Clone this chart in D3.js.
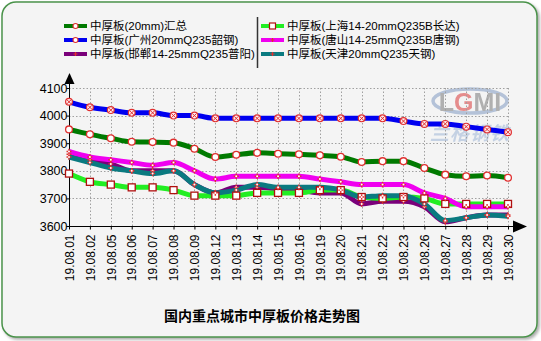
<!DOCTYPE html>
<html><head><meta charset="utf-8">
<script src="https://cdn.jsdelivr.net/npm/d3@7"></script>
<style>
html,body{margin:0;padding:0;background:#fff;}
svg{display:block;}
</style></head>
<body>
<svg id="chart" width="541" height="341"></svg>
<script>
const dates = ["19.08.01","19.08.02","19.08.05","19.08.06","19.08.07","19.08.08","19.08.09","19.08.12","19.08.13","19.08.14","19.08.15","19.08.16","19.08.19","19.08.20","19.08.21","19.08.22","19.08.23","19.08.26","19.08.27","19.08.28","19.08.29","19.08.30"];
const yTicks = [3600,3700,3800,3900,4000,4100];
const seriesNames = ["中厚板(20mm)汇总","中厚板(广州20mmQ235韶钢)","中厚板(邯郸14-25mmQ235普阳)","中厚板(上海14-20mmQ235B长达)","中厚板(唐山14-25mmQ235B唐钢)","中厚板(天津20mmQ235天钢)"];
const huizong  = [3950,3932,3918,3905,3904,3902,3880,3850,3858,3865,3862,3860,3856,3851,3832,3835,3835,3810,3786,3780,3783,3775];
const guangzhou= [4050,4030,4020,4010,4010,4000,4000,3990,3990,3990,3990,3990,3990,3990,3990,3990,3980,3970,3970,3960,3950,3940];
const handan   = [3860,3840,3825,3800,3800,3800,3750,3720,3740,3740,3735,3730,3720,3720,3680,3690,3690,3670,3615,3630,3640,3640];
const shanghai = [3790,3760,3750,3740,3740,3730,3710,3710,3710,3720,3720,3720,3730,3730,3705,3700,3705,3700,3680,3680,3680,3680];
const tangshan = [3870,3850,3840,3830,3820,3830,3800,3770,3780,3780,3780,3780,3770,3760,3750,3750,3750,3720,3700,3670,3670,3670];
const tianjin  = [3850,3830,3810,3800,3790,3800,3750,3720,3730,3750,3740,3740,3740,3730,3705,3710,3710,3680,3620,3630,3640,3635];
const title = "国内重点城市中厚板价格走势图";

const svg = d3.select("#chart");
const defs = svg.append("defs");
const flt = defs.append("filter").attr("id","sh").attr("x","-5%").attr("y","-5%").attr("width","110%").attr("height","110%");
flt.append("feDropShadow").attr("dx",2).attr("dy",2).attr("stdDeviation",1.5).attr("flood-color","#777").attr("flood-opacity",0.6);

// frame
svg.append("rect").attr("x",2).attr("y",2).attr("width",535).attr("height",335).attr("rx",14).attr("ry",14)
  .attr("fill","#f4f4f4").attr("stroke","#4a934a").attr("stroke-width",1.5).attr("filter","url(#sh)");

const x = d3.scalePoint().domain(dates).range([69,508]);
const y = d3.scaleLinear().domain([3600,4100]).range([226,88]);

// watermark
const wm = svg.append("g").attr("opacity",0.75);
wm.append("ellipse").attr("cx",470).attr("cy",101).attr("rx",37).attr("ry",12)
  .attr("fill","none").attr("stroke","#9fb2cf").attr("stroke-width",3.5);
const lg = wm.append("text").attr("x",470).attr("y",111).attr("text-anchor","middle")
  .attr("font-family","Liberation Sans, Arial, sans-serif").attr("font-size",25).attr("font-weight","bold").attr("fill","#9a9a9a");
lg.append("tspan").text("L");
lg.append("tspan").attr("fill","#e06a6a").text("G");
lg.append("tspan").text("MI");
wm.append("text").attr("x",470).attr("y",140).attr("text-anchor","middle")
  .attr("font-family","Noto Sans CJK SC, sans-serif").attr("font-size",19).attr("font-weight","bold").attr("font-style","italic")
  .attr("fill","#b5c6de").attr("letter-spacing",1).text("兰格钢铁");

// grid
const grid = svg.append("g").attr("stroke","#a0a0a0").attr("stroke-width",1).attr("stroke-dasharray","1.5,2");
yTicks.filter(t=>t>3600).forEach(t=>{
  grid.append("line").attr("x1",69).attr("x2",508).attr("y1",Math.round(y(t))+0.5).attr("y2",Math.round(y(t))+0.5);
});
dates.slice(1).forEach(d=>{
  grid.append("line").attr("x1",Math.round(x(d))+0.5).attr("x2",Math.round(x(d))+0.5).attr("y1",y(4100)).attr("y2",226);
});

// axes
const yAxis = svg.append("g").attr("transform","translate(69.5,0)")
  .call(d3.axisLeft(y).tickValues(yTicks).tickSize(3).tickSizeOuter(0).tickFormat(d3.format("d")));
yAxis.select(".domain").remove();
yAxis.selectAll("text").attr("font-family","Liberation Sans, Arial, sans-serif").attr("font-size",12.5).attr("fill","#000").attr("x",-2);
yAxis.selectAll("line").attr("stroke","#000");

const xAxis = svg.append("g").attr("transform","translate(0,226.5)")
  .call(d3.axisBottom(x).tickSize(3).tickSizeOuter(0));
xAxis.select(".domain").remove();
xAxis.selectAll("line").attr("stroke","#000");
xAxis.selectAll("text").attr("font-family","Liberation Sans, Arial, sans-serif").attr("font-size",12).attr("fill","#000")
  .attr("transform","rotate(-90)").attr("text-anchor","end").attr("x",-8).attr("y",0).attr("dy","0.35em");

svg.append("line").attr("x1",69.5).attr("x2",69.5).attr("y1",226.5).attr("y2",80).attr("stroke","#000").attr("stroke-width",1);
svg.append("path").attr("d","M69.5,73 L64.5,84 L74.5,84 Z").attr("fill","#000");
svg.append("line").attr("x1",69).attr("x2",515).attr("y1",226.5).attr("y2",226.5).attr("stroke","#000").attr("stroke-width",1);
svg.append("path").attr("d","M527,226.5 L513,220.5 L513,232.5 Z").attr("fill","#000");

// series
const series = [
  {name:seriesNames[0], vals:huizong,  color:"#007a00", mk:"circle"},
  {name:seriesNames[1], vals:guangzhou,color:"#0000f0", mk:"xcircle"},
  {name:seriesNames[2], vals:handan,   color:"#7a007a", mk:"plus"},
  {name:seriesNames[3], vals:shanghai, color:"#22ee22", mk:"square"},
  {name:seriesNames[4], vals:tangshan, color:"#f000f0", mk:"plus"},
  {name:seriesNames[5], vals:tianjin,  color:"#0a7a80", mk:"plus"}
];
const line = d3.line().x((v,i)=>x(dates[i])).y(v=>y(v)).curve(d3.curveMonotoneX);
const lg2 = svg.append("g");
series.forEach(s=>{
  lg2.append("path").attr("d",line(s.vals)).attr("fill","none").attr("stroke",s.color).attr("stroke-width",5).attr("stroke-linejoin","round");
});

function marker(g, cx, cy, mk){
  if(mk==="circle"){
    g.append("circle").attr("cx",cx).attr("cy",cy).attr("r",3.4).attr("fill","#fff").attr("stroke","#e03030").attr("stroke-width",1.3);
  } else if(mk==="xcircle"){
    g.append("circle").attr("cx",cx).attr("cy",cy).attr("r",3.4).attr("fill","#fde8ec").attr("stroke","#e03030").attr("stroke-width",1.2);
    g.append("path").attr("d",`M${cx-2},${cy-2}L${cx+2},${cy+2}M${cx-2},${cy+2}L${cx+2},${cy-2}`).attr("stroke","#e03030").attr("stroke-width",1);
  } else if(mk==="square"){
    g.append("rect").attr("x",cx-3.5).attr("y",cy-3.5).attr("width",7).attr("height",7).attr("fill","#fff").attr("stroke","#b01010").attr("stroke-width",1.3);
  } else {
    g.append("path").attr("d",`M${cx-2.5},${cy}L${cx+2.5},${cy}M${cx},${cy-2.8}L${cx},${cy+2.8}`).attr("stroke","#e03030").attr("stroke-width",1.4);
    g.append("circle").attr("cx",cx).attr("cy",cy).attr("r",1).attr("fill","#fff");
  }
}
const mg = svg.append("g");
series.forEach(s=>{
  s.vals.forEach((v,i)=>marker(mg, x(dates[i]), y(v), s.mk));
});

// legend
const leg = svg.append("g").attr("font-family","Liberation Sans, Arial, Noto Sans CJK SC, sans-serif").attr("font-size",11.5).attr("fill","#000");
const legPos = [[64,26],[64,40],[64,54],[261,26],[261,40],[261,54]];
series.forEach((s,i)=>{
  const [lx,ly] = legPos[i];
  leg.append("line").attr("x1",lx).attr("x2",lx+23).attr("y1",ly).attr("y2",ly).attr("stroke",s.color).attr("stroke-width",4);
  const c = lx+11.5;
  if(s.mk==="square"){
    leg.append("rect").attr("x",c-3).attr("y",ly-3).attr("width",6).attr("height",6).attr("fill","#fff").attr("stroke","#b01010").attr("stroke-width",1.2);
  } else if(s.mk==="plus"){
    leg.append("path").attr("d",`M${c-2},${ly}L${c+2},${ly}M${c},${ly-2}L${c},${ly+2}`).attr("stroke","#e03030").attr("stroke-width",1.2);
  } else {
    leg.append("circle").attr("cx",c).attr("cy",ly).attr("r",2.5).attr("fill","#fff").attr("stroke","#e03030").attr("stroke-width",1.1);
  }
  leg.append("text").attr("x",lx+26).attr("y",ly+4).text(s.name);
});
svg.append("line").attr("x1",257.5).attr("x2",257.5).attr("y1",17).attr("y2",68).attr("stroke","#333").attr("stroke-width",1.5);

// title
svg.append("text").attr("x",262).attr("y",321).attr("text-anchor","middle")
  .attr("font-family","Noto Sans CJK SC, sans-serif").attr("font-size",14).attr("font-weight","bold").attr("fill","#000").text(title);
</script>
</body></html>
